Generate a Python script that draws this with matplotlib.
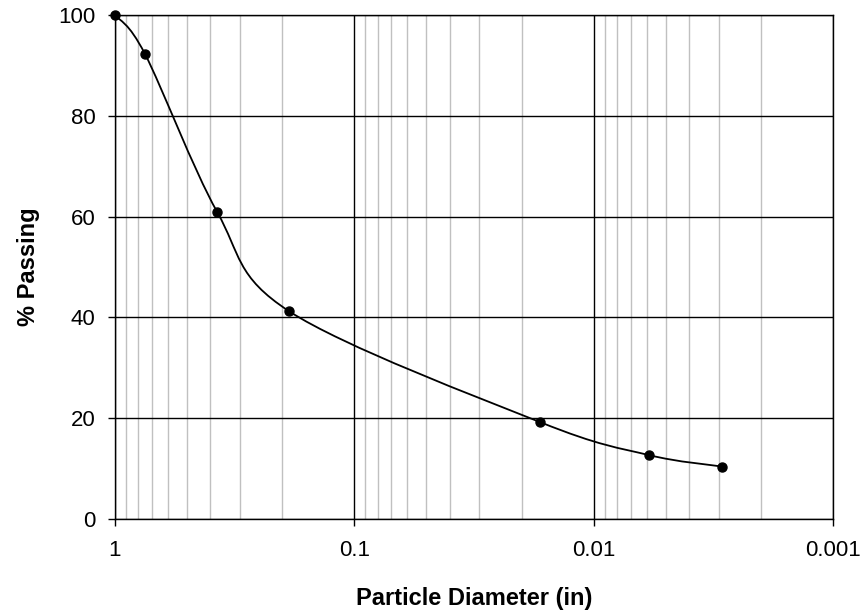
import numpy as np
import matplotlib
matplotlib.use("Agg")
from matplotlib import pyplot as plt
from matplotlib.path import Path
from matplotlib.patches import PathPatch
from matplotlib.ticker import LogLocator, FixedLocator, NullFormatter

plt.rcParams['font.family'] = ['Liberation Sans', 'DejaVu Sans']

# sieve data
DIAMETERS = [1.0, 0.75, 0.375, 0.187, 0.0167, 0.0059, 0.0029]
PASSING   = [100.0, 92.3, 61.0, 41.2, 19.2, 12.7, 10.4]
X_TICKS   = [1, 0.1, 0.01, 0.001]
X_LABELS  = ["1", "0.1", "0.01", "0.001"]
Y_TICKS   = [0, 20, 40, 60, 80, 100]


def smooth_path(xs, ys):
    # Excel-style smoothed line: cubic bezier, control points from neighbours
    # (done in log-x space, which is affine to the screen)
    p = np.column_stack([np.log10(xs), ys])
    p = np.vstack([p[0], p, p[-1]])
    verts = [p[1]]
    codes = [Path.MOVETO]
    for i in range(1, len(p) - 2):
        c1 = p[i] + (p[i + 1] - p[i - 1]) / 6.0
        c2 = p[i + 1] - (p[i + 2] - p[i]) / 6.0
        verts += [c1, c2, p[i + 1]]
        codes += [Path.CURVE4] * 3
    verts = np.array(verts)
    verts[:, 0] = 10 ** verts[:, 0]
    return Path(verts, codes)


fig = plt.figure(figsize=(8.62, 6.12), dpi=100)
ax = fig.add_axes([115 / 862, 1 - 519 / 612, 718 / 862, 504 / 612])

ax.set_xscale("log")
ax.set_xlim(1, 0.001)
ax.set_ylim(0, 100)

ax.xaxis.set_major_locator(FixedLocator(X_TICKS))
ax.set_xticklabels(X_LABELS)
ax.xaxis.set_minor_locator(LogLocator(base=10, subs=np.arange(2, 10)))
ax.xaxis.set_minor_formatter(NullFormatter())
ax.set_yticks(Y_TICKS)

ax.grid(True, which="minor", axis="x", color="#c0c0c0", linewidth=1.0)
ax.grid(True, which="major", axis="x", color="black", linewidth=1.0)
ax.grid(True, which="major", axis="y", color="black", linewidth=1.0)
ax.set_axisbelow(True)

ax.tick_params(axis="both", which="major", direction="out", length=5,
               width=1, labelsize=16, pad=9)
ax.tick_params(axis="x", which="minor", length=0)
ax.tick_params(axis="x", which="major", pad=10)
for s in ax.spines.values():
    s.set_color("black")
    s.set_linewidth(1.0)

ax.add_patch(PathPatch(smooth_path(DIAMETERS, PASSING), facecolor="none",
                       edgecolor="black", linewidth=1.3, zorder=3))
ax.plot(DIAMETERS, PASSING, "o", color="black", markersize=6.5,
        clip_on=False, zorder=4)

ax.set_xlabel("Particle Diameter (in)", fontsize=17, fontweight="bold",
              labelpad=19)
ax.set_ylabel("% Passing", fontsize=17, fontweight="bold", labelpad=13)

fig.savefig("out.png", dpi=100)
